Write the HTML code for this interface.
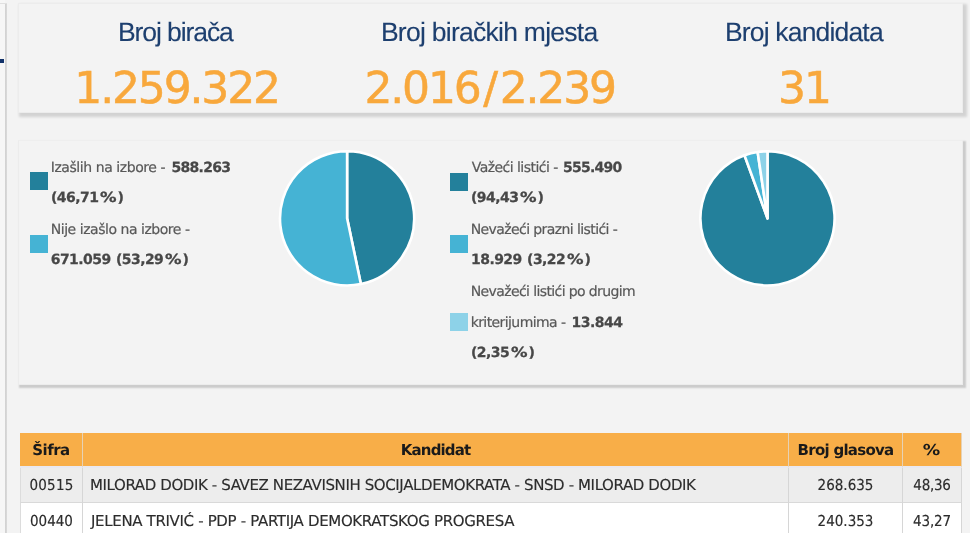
<!DOCTYPE html>
<html lang="bs">
<head>
<meta charset="utf-8">
<title>Rezultati izbora</title>
<style>
html,body{margin:0;padding:0;}
html{width:970px;height:533px;overflow:hidden;background:#f3f3f3;}
body{width:970px;height:533px;overflow:hidden;background:#f3f3f3;}
#page{position:relative;width:970px;height:533px;overflow:hidden;background:#f3f3f3;
  font-family:"DejaVu Sans","Liberation Sans",sans-serif;font-size:15px;color:#222;text-rendering:geometricPrecision;}
/* left sidebar edge */
.side{position:absolute;left:0;top:0;width:8px;height:533px;}
.side i{position:absolute;display:block;}
.side .bg{left:0;top:0;width:5px;height:533px;background:#f6f6f6;}
.side .line{left:4.6px;top:3px;width:2.7px;height:530px;background:linear-gradient(90deg,#d0d0d0,#dadada);}
.side .top{left:0;top:3px;width:7.4px;height:1.4px;background:#e0e0e0;}
.side .mark{left:0;top:59px;width:4.4px;height:4px;background:#12326a;}
/* panels */
.panel{position:absolute;left:18px;width:943px;border:1px solid #ececec;background:#f3f3f3;}
#p1{top:3px;height:108px;box-shadow:2.5px 2.5px 2.5px 1.5px rgba(0,0,0,0.135);}
#p2{top:140px;height:243px;border-top-color:#eeeeee;box-shadow:2px 2px 1.5px 1px rgba(0,0,0,0.16);}
.stat h3{margin:0;position:absolute;top:12px;font-family:"Liberation Sans","DejaVu Sans",sans-serif;font-weight:400;font-size:26.5px;line-height:32px;color:#1d3f6f;-webkit-text-stroke:0.12px #1d3f6f;white-space:nowrap;}
.stat .num{position:absolute;top:58px;font-size:44px;line-height:54px;letter-spacing:-2.15px;color:#f8a83c;-webkit-text-stroke:0.5px #f8a83c;white-space:nowrap;}
.stat .num i{font-style:normal;margin:0 3.7px;}
/* legends + pies */
.legend{list-style:none;margin:0;padding:0;}
.legend .sq{position:absolute;display:block;width:18px;height:18px;}
.ln{position:absolute;left:0;font-size:14px;line-height:30px;height:30px;color:#585858;-webkit-text-stroke:0.2px #585858;white-space:nowrap;}
.ln span,.ln b{position:absolute;top:0;}
.ln b{color:#474747;-webkit-text-stroke:0.25px #474747;font-weight:700;word-spacing:1px;}
.ln b i{font-style:normal;display:inline-block;transform:scaleX(1.18);transform-origin:0 50%;margin:0 3.6px 0 1.6px;letter-spacing:0;}
.pie{position:absolute;display:block;}
/* results table */
table{position:absolute;left:20px;top:433px;width:942px;border-collapse:separate;border-spacing:0;table-layout:fixed;font-size:15px;}
th{background:#f8ae48;color:#1a1a1a;font-weight:700;height:35px;box-sizing:border-box;padding:1px 0 0;border-right:1px solid #e6d2b6;border-bottom:2px solid #e9e9f1;text-align:center;white-space:nowrap;}
th .pc{display:inline-block;transform:scaleX(1.16);}
td{height:36px;box-sizing:border-box;padding:1px 0 0;border-right:1px solid #d6d6d6;border-bottom:1px solid #d9d9d9;color:#2c2c2c;-webkit-text-stroke:0.15px #2c2c2c;text-align:center;white-space:nowrap;
  font-family:"DejaVu Sans Condensed","DejaVu Sans","Liberation Sans",sans-serif;}
td:first-child{border-left:1px solid #dcdcdc;}
td.l{text-align:left;padding-left:7px;font-family:"DejaVu Sans","Liberation Sans",sans-serif;}
tr.odd td{background:#ededed;height:35px;padding-top:0;}
tr.even td{background:#fff;}
</style>
</head>
<body>
<div id="page">
<div class="side"><i class="bg"></i><i class="line"></i><i class="top"></i><i class="mark"></i></div>

<div class="panel" id="p1">
  <div class="stat"><h3 style="left:98.9px;letter-spacing:-1.07px">Broj birača</h3><div class="num" style="left:55.3px">1.259.322</div></div>
  <div class="stat"><h3 style="left:361.9px;letter-spacing:-0.73px">Broj biračkih mjesta</h3><div class="num" style="left:345.4px">2.016<i>/</i>2.239</div></div>
  <div class="stat"><h3 style="left:706.0px;letter-spacing:-0.83px">Broj kandidata</h3><div class="num" style="left:759.1px">31</div></div>
</div>

<div class="panel" id="p2">
  <div class="chart">
    <ul class="legend">
      <li><i class="sq" style="left:11px;top:31.3px;background:#23809b"></i><div class="ln" style="top:12px"><span style="left:31.7px;letter-spacing:-0.43px">Izašlih na izbore -</span><b style="left:152.4px;letter-spacing:-0.68px">588.263</b></div><div class="ln" style="top:42px"><b style="left:32.0px;letter-spacing:-0.55px">(46,71<i>%</i>)</b></div></li>
      <li><i class="sq" style="left:11px;top:94px;background:#45b3d4"></i><div class="ln" style="top:74px"><span style="left:31.7px;letter-spacing:-0.46px">Nije izašlo na izbore -</span></div><div class="ln" style="top:104px"><b style="left:31.7px;letter-spacing:-0.55px">671.059 (53,29<i>%</i>)</b></div></li>
    </ul>
    <svg class="pie" style="left:256px;top:5px" width="144" height="144" viewBox="0 0 144 144">
      <path d="M72.10 72.35 L72.10 5.25 A67.1 67.1 0 0 1 85.87 138.02 Z" fill="#23809b" stroke="#fff" stroke-width="2.6" stroke-linejoin="round"/>
      <path d="M72.10 72.35 L85.87 138.02 A67.1 67.1 0 1 1 72.10 5.25 Z" fill="#45b3d4" stroke="#fff" stroke-width="2.6" stroke-linejoin="round"/>
    </svg>
  </div>
  <div class="chart">
    <ul class="legend">
      <li><i class="sq" style="left:431px;top:31.5px;background:#23809b"></i><div class="ln" style="top:12px"><span style="left:452.7px;letter-spacing:-0.54px">Važeći listići -</span><b style="left:544.0px;letter-spacing:-0.77px">555.490</b></div><div class="ln" style="top:42px"><b style="left:452.0px;letter-spacing:-0.55px">(94,43<i>%</i>)</b></div></li>
      <li><i class="sq" style="left:431px;top:94px;background:#45b3d4"></i><div class="ln" style="top:74px"><span style="left:451.7px;letter-spacing:-0.59px">Nevažeći prazni listići -</span></div><div class="ln" style="top:104px"><b style="left:452.0px;letter-spacing:-0.55px">18.929 (3,22<i>%</i>)</b></div></li>
      <li><i class="sq" style="left:431px;top:171.5px;background:#8dd2e8"></i><div class="ln" style="top:136px"><span style="left:451.7px;letter-spacing:-0.61px">Nevažeći listići po drugim</span></div><div class="ln" style="top:166.5px"><span style="left:451.7px;letter-spacing:-0.59px">kriterijumima -</span><b style="left:552.4px;letter-spacing:-0.48px">13.844</b></div><div class="ln" style="top:196.5px"><b style="left:452.0px;letter-spacing:-0.55px">(2,35<i>%</i>)</b></div></li>
    </ul>
    <svg class="pie" style="left:676px;top:5px" width="144" height="144" viewBox="0 0 144 144">
      <path d="M72.50 72.35 L72.50 5.25 A67.1 67.1 0 1 1 49.49 9.32 Z" fill="#23809b" stroke="#fff" stroke-width="2.6" stroke-linejoin="round"/>
      <path d="M72.50 72.35 L49.49 9.32 A67.1 67.1 0 0 1 62.63 5.98 Z" fill="#45b3d4" stroke="#fff" stroke-width="2.6" stroke-linejoin="round"/>
      <path d="M72.50 72.35 L62.63 5.98 A67.1 67.1 0 0 1 72.50 5.25 Z" fill="#8dd2e8" stroke="#fff" stroke-width="2.6" stroke-linejoin="round"/>
    </svg>
  </div>
</div>

<table>
  <colgroup><col style="width:63px"><col style="width:706px"><col style="width:114px"><col style="width:59px"></colgroup>
  <thead>
    <tr><th style="letter-spacing:-0.53px">Šifra</th><th style="letter-spacing:-0.87px">Kandidat</th><th style="letter-spacing:-0.73px">Broj glasova</th><th style="letter-spacing:0.0px"><span class="pc">%</span></th></tr>
  </thead>
  <tbody>
    <tr class="odd"><td style="letter-spacing:0.25px">00515</td><td class="l" style="letter-spacing:-0.39px">MILORAD DODIK - SAVEZ NEZAVISNIH SOCIJALDEMOKRATA - SNSD - MILORAD DODIK</td><td style="letter-spacing:0.0px">268.635</td><td style="letter-spacing:-0.25px">48,36</td></tr>
    <tr class="even"><td style="letter-spacing:0.0px">00440</td><td class="l" style="letter-spacing:-0.34px;padding-left:8px">JELENA TRIVIĆ - PDP - PARTIJA DEMOKRATSKOG PROGRESA</td><td style="letter-spacing:0.0px">240.353</td><td style="letter-spacing:-0.13px">43,27</td></tr>
  </tbody>
</table>
</div>
</body>
</html>
